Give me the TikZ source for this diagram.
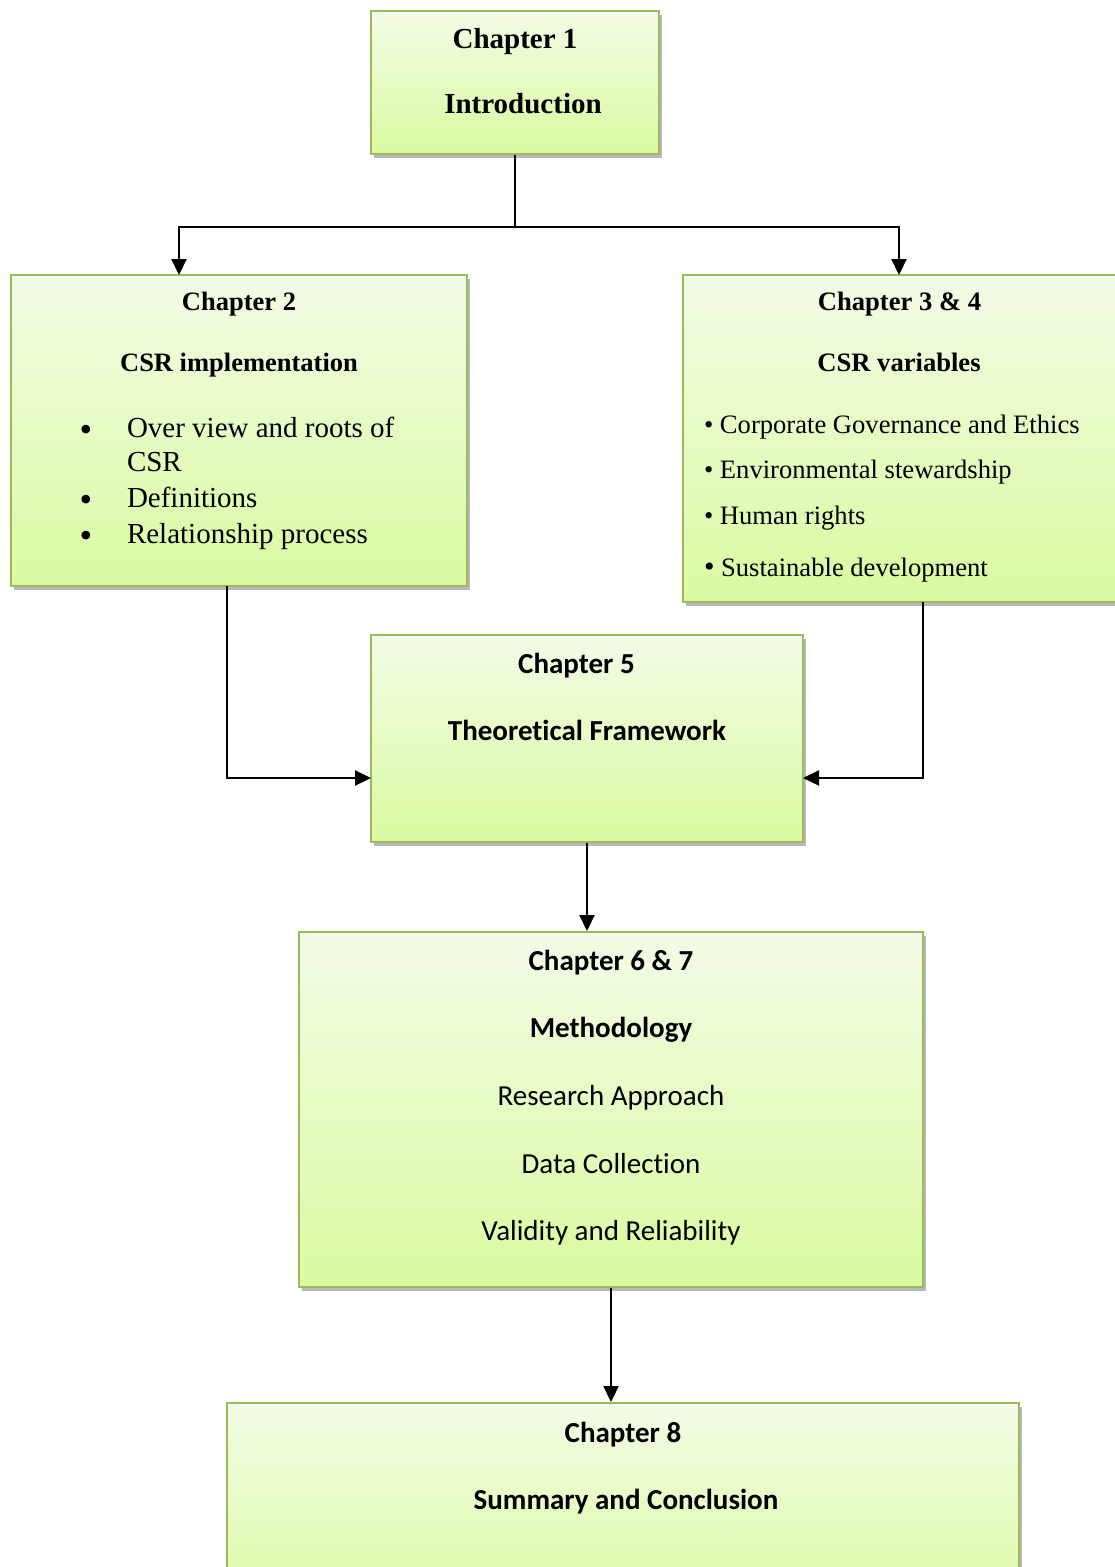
\documentclass[tikz,border=0pt]{standalone}
\usepackage{fontspec}
\setmainfont{Liberation Serif}
\newfontfamily\calibrifont[Ligatures=NoCommon]{Carlito}
\usetikzlibrary{arrows.meta,shadows}

\definecolor{boxedge}{RGB}{155,187,89}
\definecolor{boxtop}{RGB}{242,251,230}
\definecolor{boxbot}{RGB}{218,250,160}

\newcommand{\fs}[1]{\fontsize{#1}{#1}\selectfont}

\tikzset{
  chapbox/.style={draw=boxedge, line width=2pt, inner sep=0pt,
    top color=boxtop, bottom color=boxbot,
    drop shadow={shadow xshift=3pt, shadow yshift=-4pt, fill=black, opacity=0.28}},
  label/.style={inner sep=0pt, outer sep=0pt},
  serifhead/.style={label, anchor=base, font=\bfseries\fs{#1}},
  seriftext/.style={label, anchor=base west, font=\fs{#1}},
  sanshead/.style={label, anchor=base, font=\calibrifont\bfseries\fs{29}},
  sanstext/.style={label, anchor=base, font=\calibrifont\fs{29}},
  bulletdot/.style={label, anchor=base, font=\fs{36}},
  link/.style={line width=2.2pt, draw=black},
  arr/.style={link, -{Triangle[length=16pt,width=15pt]}}
}

\begin{document}
\begin{tikzpicture}[x=1pt,y=-1pt]
\clip (0,0) rectangle (1115,1567);
\fill[white] (0,0) rectangle (1115,1567);

% boxes
\node[chapbox, minimum width=288pt, minimum height=143pt] (b1)  at (515,82.5)   {};
\node[chapbox, minimum width=456pt, minimum height=311pt] (b2)  at (239,430.5)  {};
\node[chapbox, minimum width=434pt, minimum height=327pt] (b34) at (900,438.5)  {};
\node[chapbox, minimum width=432pt, minimum height=207pt] (b5)  at (587,738.5)  {};
\node[chapbox, minimum width=624pt, minimum height=355pt] (b67) at (611,1109.5) {};
\node[chapbox, minimum width=792pt, minimum height=217pt] (b8)  at (623,1511.5) {};

% chapter 1
\node[serifhead=29] (t1a) at (515,48)  {Chapter 1};
\node[serifhead=29] (t1b) at (523,113) {Introduction};

% chapter 2
\node[serifhead=26.5] (t2a) at (239,310) {Chapter 2};
\node[serifhead=26.5] (t2b) at (239,371) {CSR implementation};
\node[bulletdot] (d2a) at (86,441) {•};
\node[bulletdot] (d2b) at (86,511) {•};
\node[bulletdot] (d2c) at (86,547) {•};
\node[seriftext=29] (l2a) at (127,437) {Over view and roots of};
\node[seriftext=29] (l2b) at (127,471) {CSR};
\node[seriftext=29] (l2c) at (127,507) {Definitions};
\node[seriftext=29] (l2d) at (127,543) {Relationship process};

% chapters 3 & 4
\node[serifhead=26.6] (t3a) at (899.5,310) {Chapter 3 \& 4};
\node[serifhead=26.6] (t3b) at (899,371)   {CSR variables};
\node[seriftext=26.6] (l3a) at (704,433) {• Corporate Governance and Ethics};
\node[seriftext=26.6] (l3b) at (704,478) {• Environmental stewardship};
\node[seriftext=26.6] (l3c) at (704,524) {• Human rights};
\node[seriftext=26.6] (l3d) at (704,576) {{\fs{30}•} Sustainable development};

% chapter 5
\node[sanshead] (t5a) at (576.5,673) {Chapter 5};
\node[sanshead] (t5b) at (587,740)   {Theoretical Framework};

% chapters 6 & 7
\node[sanshead] (t6a) at (611,970)  {Chapter 6 \& 7};
\node[sanshead] (t6b) at (611,1037) {Methodology};
\node[sanstext] (t6c) at (611,1105) {Research Approach};
\node[sanstext] (t6d) at (611,1173) {Data Collection};
\node[sanstext] (t6e) at (611,1240) {Validity and Reliability};

% chapter 8
\node[sanshead] (t8a) at (623,1442) {Chapter 8};
\node[sanshead] (t8b) at (626,1509) {Summary and Conclusion};

% connector end points on box edges
\coordinate (j1)  at (515,227);
\coordinate (in2) at (179,275);
\coordinate (in3) at (899,275);
\coordinate (out2) at (227,586);
\coordinate (out3) at (923,602);
\coordinate (in5l) at (371,778);
\coordinate (in5r) at (803,778);

% connectors
\draw[link] (b1.south) -- (j1);
\draw[arr] (j1) -| (in2);
\draw[arr] (j1) -| (in3);
\draw[arr] (out2) |- (in5l);
\draw[arr] (out3) |- (in5r);
\draw[arr] (b5.south) -- (b5.south |- b67.north);
\draw[arr] (b67.south) -- (b67.south |- b8.north);
\end{tikzpicture}
\end{document}
